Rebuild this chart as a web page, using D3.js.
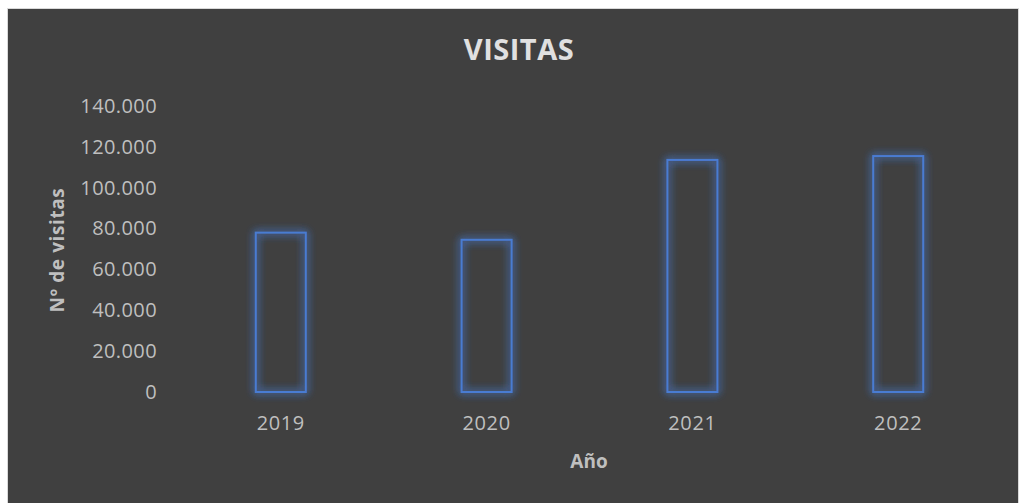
<!DOCTYPE html>
<html>
<head>
<meta charset="utf-8">
<style>
	body { margin: 0; background: #fff; }
	text { font-family: "Open Sans", "Noto Sans", sans-serif; }
</style>
</head>
<body>
<svg width="1019" height="503"></svg>
<script src="https://d3js.org/d3.v7.min.js"></script>
<script>

	var years = ["2019", "2020", "2021", "2022"];
	var visitas = [78000, 74500, 113600, 115500];
	var yTicks = [0, 20000, 40000, 60000, 80000, 100000, 120000, 140000];

	var svg = d3.select("svg");

	// chart area background with a faint frame
	svg.append("rect")
		.attr("x", 7.5).attr("y", 8.5)
		.attr("width", 1011).attr("height", 496)
		.attr("fill", "#404040")
		.attr("stroke", "#d9d9d9");

	var x = d3.scaleBand()
		.domain(years)
		.range([178, 1001])
		.paddingInner(0.757)
		.paddingOuter(0.378);

	var y = d3.scaleLinear()
		.domain([0, 140000])
		.range([392, 106]);

	var fmt = function (d) { return d3.format(",")(d).replace(/,/g, "."); };

	// glow for the bar outlines
	var defs = svg.append("defs");
	var glow = defs.append("filter").attr("id", "glow")
		.attr("x", "-40%").attr("y", "-15%").attr("width", "180%").attr("height", "130%");
	glow.append("feGaussianBlur").attr("in", "SourceGraphic").attr("stdDeviation", 4).attr("result", "b");
	var merge = glow.append("feMerge");
	merge.append("feMergeNode").attr("in", "b");
	merge.append("feMergeNode").attr("in", "b");
	merge.append("feMergeNode").attr("in", "SourceGraphic");

	// y axis labels
	var yAxis = svg.append("g")
		.attr("transform", "translate(157,0)")
		.call(d3.axisLeft(y).tickValues(yTicks).tickFormat(fmt).tickSize(0).tickPadding(0));
	yAxis.select(".domain").remove();
	yAxis.selectAll("text")
		.attr("fill", "#bfbfbf")
		.style("font-size", "20px")
		.style("letter-spacing", "0.4px")
		.style("font-family", "'Open Sans', sans-serif");

	// x axis labels
	var xAxis = svg.append("g")
		.attr("transform", "translate(0,392)")
		.call(d3.axisBottom(x).tickSize(0).tickPadding(24));
	xAxis.select(".domain").remove();
	xAxis.selectAll("text")
		.attr("fill", "#bfbfbf")
		.style("font-size", "20px")
		.style("letter-spacing", "0.6px")
		.style("font-family", "'Open Sans', sans-serif");

	// bars (outline only)
	svg.append("g")
		.selectAll("rect")
		.data(visitas)
		.enter().append("rect")
		.attr("x", function (d, i) { return x(years[i]); })
		.attr("y", function (d) { return y(d); })
		.attr("width", x.bandwidth())
		.attr("height", function (d) { return y(0) - y(d); })
		.attr("fill", "none")
		.attr("stroke", "#4a7bd2")
		.attr("stroke-width", 2)
		.attr("filter", "url(#glow)");

	// titles
	svg.append("text")
		.attr("x", 519).attr("y", 60)
		.attr("text-anchor", "middle")
		.attr("fill", "#e0e0e0")
		.style("font-size", "29px")
		.style("letter-spacing", "0.5px")
		.style("font-weight", "bold")
		.text("VISITAS");

	svg.append("text")
		.attr("transform", "translate(64,250) rotate(-90)")
		.attr("text-anchor", "middle")
		.attr("fill", "#bfbfbf")
		.style("font-size", "19px")
		.style("letter-spacing", "0.6px")
		.style("font-weight", "bold")
		.text("Nº de visitas");

	svg.append("text")
		.attr("x", 589).attr("y", 468)
		.attr("text-anchor", "middle")
		.attr("fill", "#bfbfbf")
		.style("font-size", "19px")
		.style("font-weight", "bold")
		.text("Año");

</script>
</body>
</html>
